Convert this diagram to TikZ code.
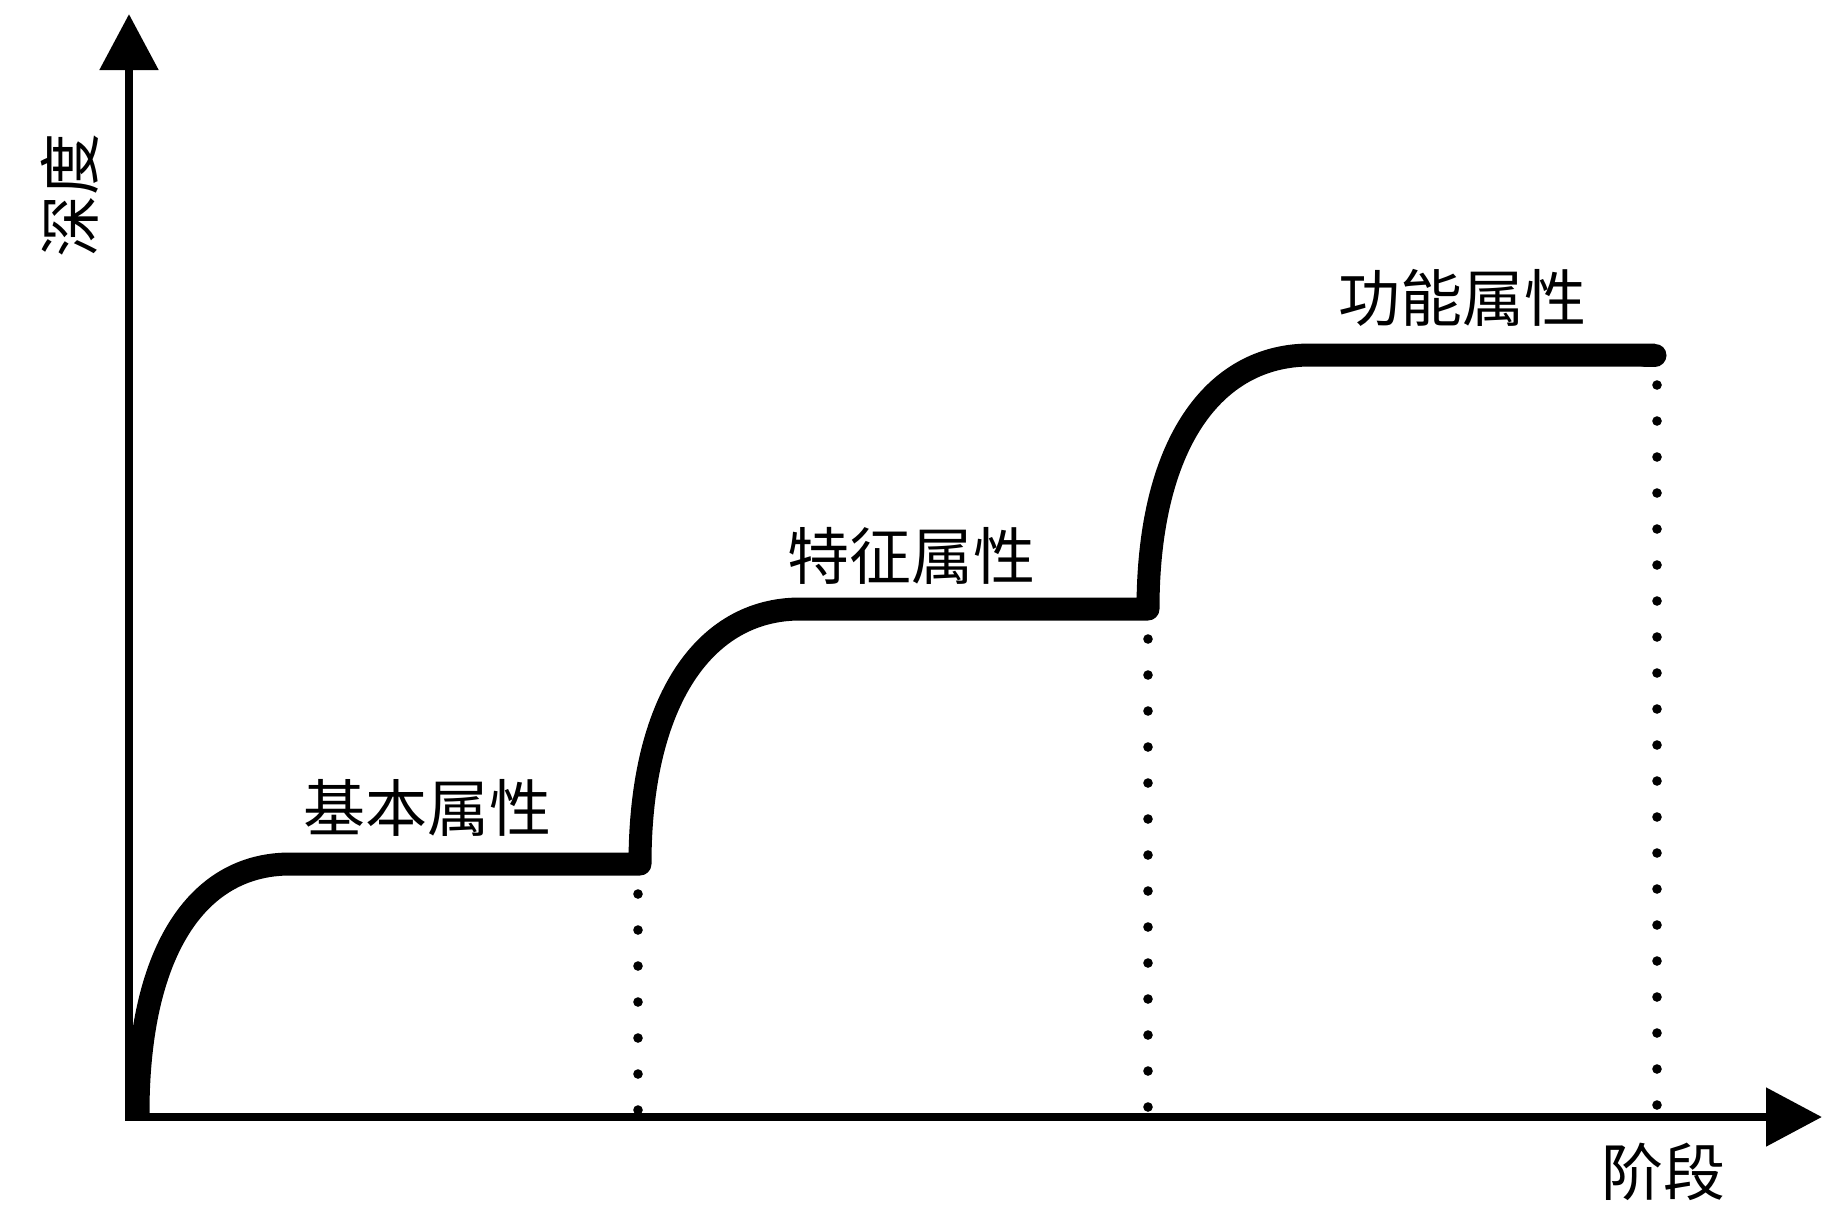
\documentclass[tikz,border=0pt]{standalone}
\usepackage{fontspec}
\newfontfamily\cjk{Noto Sans CJK SC}
\usetikzlibrary{arrows.meta}
\tikzset{
  axisline/.style={line width=4.3pt, line join=miter,
    {Triangle[length=28pt,width=28.5pt]}-{Triangle[length=28pt,width=28.5pt]}},
  stepcurve/.style={line width=11.5pt, line join=round, line cap=butt},
  dotline/.style={line width=4.8pt, line cap=round, dash pattern=on 0pt off 18pt},
  lbl/.style={font=\cjk\fontsize{31pt}{36pt}\selectfont, inner sep=0pt}
}
\begin{document}
\begin{tikzpicture}[x=0.5pt,y=-0.5pt]
\useasboundingbox (0,0) rectangle (1843,1228);
% axes
\coordinate (ytip) at (129,14);
\coordinate (origin) at (129,1117);
\coordinate (xtip) at (1822,1117);
\draw[axisline] (ytip) -- (origin) -- (xtip);
% step curve
\coordinate (s0) at (138,1113);
\coordinate (f1a) at (290,864);
\coordinate (f1b) at (640,864);
\coordinate (f2a) at (800,609);
\coordinate (f2b) at (1148,609);
\coordinate (f3a) at (1310,355);
\coordinate (f3b) at (1655,355);
\draw[stepcurve] (s0) .. controls (138,955) and (195,864) .. (f1a) -- (f1b)
  .. controls (640,700) and (705,609) .. (f2a) -- (f2b)
  .. controls (1148,445) and (1213,355) .. (f3a) -- (f3b);
\draw[line width=11.5pt, line cap=round] (1645,355) -- (f3b);
% dotted guides
\coordinate (d1a) at (638,894);  \coordinate (d1b) at (638,1110);
\coordinate (d2a) at (1148,639); \coordinate (d2b) at (1148,1107);
\coordinate (d3a) at (1657,385); \coordinate (d3b) at (1657,1105);
\draw[dotline] (d1a) -- (d1b);
\draw[dotline] (d2a) -- (d2b);
\draw[dotline] (d3a) -- (d3b);
% labels
\node[lbl] (l1) at (427,808) {基本属性};
\node[lbl] (l2) at (911,556) {特征属性};
\node[lbl] (l3) at (1462,298) {功能属性};
\node[lbl, rotate=90] (ylab) at (70,195) {深度};
\node[lbl] (xlab) at (1663,1172) {阶段};
\end{tikzpicture}
\end{document}
